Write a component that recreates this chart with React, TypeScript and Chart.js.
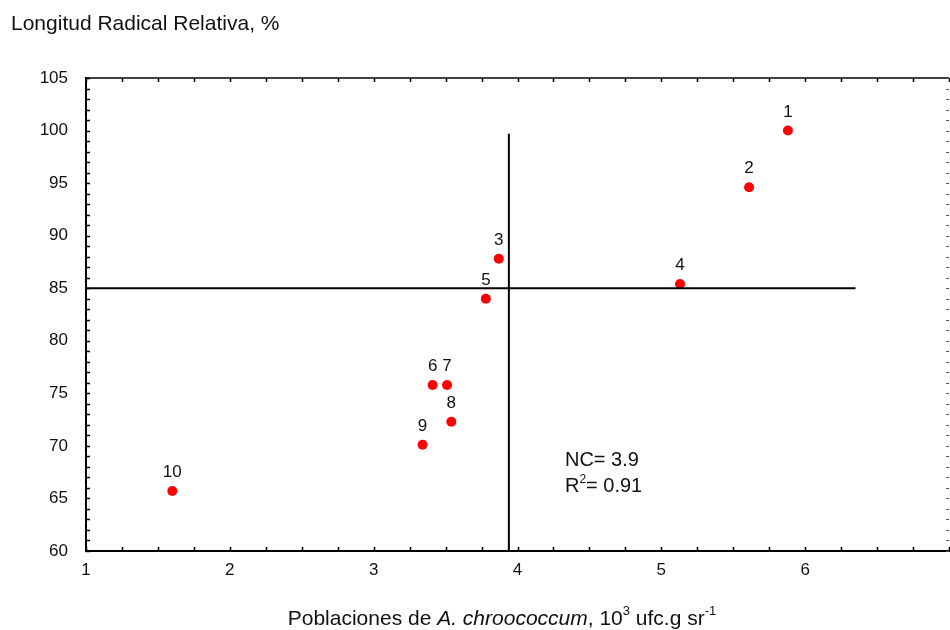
import React, { useEffect, useRef } from "react";
import { Chart, registerables } from "chart.js";

Chart.register(...registerables);

// ---- data ----
const pointLabels = ["1", "2", "3", "4", "5", "6", "7", "8", "9", "10"];
const xValues = [5.88, 5.61, 3.87, 5.13, 3.78, 3.41, 3.51, 3.54, 3.34, 1.6];
const yValues = [100, 94.6, 87.8, 85.4, 84.0, 75.8, 75.8, 72.3, 70.1, 65.7];

const xMin = 1;
const xMax = 7;
const xTickLabels = [1, 2, 3, 4, 5, 6];
const yMin = 60;
const yMax = 105;
const yStep = 5;

// critical level lines
const ncX = 3.94;
const ncLineYRange = [60, 99.7];
const refY = 85;
const refLineXRange = [1, 6.35];

// annotation
const annotationX = 4.33;
const annotationLines = [
  { y: 68.1, main: "NC= 3.9", sup: "", rest: "" },
  { y: 65.6, main: "R", sup: "2", rest: "= 0.91" },
];

const yTitle = "Longitud Radical Relativa, %";

const FONT = "'Liberation Sans', Arial, sans-serif";

const decorPlugin = {
  id: "decor",
  afterDraw(chart: any) {
    const { ctx, chartArea, scales } = chart;
    const xs = scales.x;
    const ys = scales.y;
    const { left, right, top, bottom } = chartArea;
    ctx.save();
    // top border
    ctx.strokeStyle = "#000";
    ctx.lineWidth = 1.5;
    ctx.beginPath();
    ctx.moveTo(left, top);
    ctx.lineTo(right, top);
    ctx.stroke();
    // x ticks (bottom & top) every 0.25
    for (let i = 0; i <= (xMax - xMin) * 4; i++) {
      const v = xMin + i * 0.25;
      const px = Math.round(xs.getPixelForValue(v)) + 0.5;
      ctx.beginPath();
      ctx.moveTo(px, bottom);
      ctx.lineTo(px, bottom - 4);
      ctx.moveTo(px, top);
      ctx.lineTo(px, top + 4);
      ctx.stroke();
    }
    // y ticks every 1 (left) and right side
    for (let v = yMin; v <= yMax; v++) {
      const py = Math.round(ys.getPixelForValue(v)) + 0.5;
      ctx.strokeStyle = "#000";
      ctx.lineWidth = 1.5;
      ctx.beginPath();
      ctx.moveTo(left, py);
      ctx.lineTo(left + 4, py);
      ctx.stroke();
      ctx.strokeStyle = "#555";
      ctx.lineWidth = 1;
      ctx.beginPath();
      ctx.moveTo(right - 3, py);
      ctx.lineTo(right, py);
      ctx.stroke();
    }

    // point labels
    ctx.fillStyle = "#111";
    ctx.font = `17px ${FONT}`;
    ctx.textAlign = "center";
    ctx.textBaseline = "alphabetic";
    const meta = chart.getDatasetMeta(2);
    meta.data.forEach((el: any, i: number) => {
      ctx.fillText(pointLabels[i], el.x, el.y - 14);
    });

    // annotation
    ctx.textAlign = "left";
    const ax = xs.getPixelForValue(annotationX);
    annotationLines.forEach((ln) => {
      const py = ys.getPixelForValue(ln.y);
      ctx.font = `20px ${FONT}`;
      let cx = ax;
      ctx.fillText(ln.main, cx, py);
      cx += ctx.measureText(ln.main).width;
      if (ln.sup) {
        ctx.font = `12px ${FONT}`;
        ctx.fillText(ln.sup, cx, py - 9);
        cx += ctx.measureText(ln.sup).width;
        ctx.font = `20px ${FONT}`;
      }
      if (ln.rest) ctx.fillText(ln.rest, cx, py);
    });

    // y title
    ctx.font = `21px ${FONT}`;
    ctx.fillStyle = "#111";
    ctx.fillText(yTitle, 11, 30);

    // x title with italics and superscripts
    const parts = [
      { t: "Poblaciones de ", f: `21px ${FONT}`, dy: 0 },
      { t: "A. chroococcum", f: `italic 21px ${FONT}`, dy: 0 },
      { t: ", 10", f: `21px ${FONT}`, dy: 0 },
      { t: "3", f: `13px ${FONT}`, dy: -10 },
      { t: " ufc.g sr", f: `21px ${FONT}`, dy: 0 },
      { t: "-1", f: `13px ${FONT}`, dy: -10 },
    ];
    let total = 0;
    parts.forEach((p) => {
      ctx.font = p.f;
      total += ctx.measureText(p.t).width;
    });
    let cx = 502 - total / 2;
    const base = 625;
    parts.forEach((p) => {
      ctx.font = p.f;
      ctx.fillText(p.t, cx, base + p.dy);
      cx += ctx.measureText(p.t).width;
    });
    ctx.restore();
  },
};

export default function App() {
  const ref = useRef<HTMLCanvasElement | null>(null);
  useEffect(() => {
    if (!ref.current) return;
    const chart = new Chart(ref.current, {
      type: "scatter",
      data: {
        datasets: [
          {
            type: "line",
            data: ncLineYRange.map((y) => ({ x: ncX, y })),
            borderColor: "#000",
            borderWidth: 2,
            pointRadius: 0,
          } as any,
          {
            type: "line",
            data: refLineXRange.map((x) => ({ x, y: refY })),
            borderColor: "#000",
            borderWidth: 2,
            pointRadius: 0,
          } as any,
          {
            data: xValues.map((x, i) => ({ x, y: yValues[i] })),
            backgroundColor: "#ff0000",
            borderColor: "#ff0000",
            borderWidth: 0,
            pointRadius: 5,
          },
        ],
      },
      options: {
        animation: false,
        responsive: false,
        devicePixelRatio: 1,
        layout: { autoPadding: false, padding: { left: 0, right: 1, top: 78, bottom: 0 } },
        plugins: {
          legend: { display: false },
          tooltip: { enabled: false },
          title: { display: false },
        },
        scales: {
          x: {
            type: "linear",
            min: xMin,
            max: xMax,
            afterBuildTicks: (scale: any) => {
              scale.ticks = xTickLabels.map((v) => ({ value: v }));
            },
            afterFit: (scale: any) => {
              scale.height = 79;
              scale.paddingRight = 0;
              scale.paddingLeft = 0;
            },
            grid: { display: true, drawOnChartArea: false, drawTicks: false },
            border: { display: true, color: "#000", width: 2 },
            ticks: {
              color: "#111",
              font: { family: FONT, size: 17 },
              padding: 9,
              maxRotation: 0,
            },
          },
          y: {
            type: "linear",
            min: yMin,
            max: yMax,
            ticks: {
              stepSize: yStep,
              color: "#111",
              font: { family: FONT, size: 17 },
              padding: 18,
            },
            afterFit: (scale: any) => {
              scale.width = 86;
              scale.paddingTop = 0;
              scale.paddingBottom = 0;
            },
            grid: { display: true, drawOnChartArea: false, drawTicks: false },
            border: { display: true, color: "#000", width: 2 },
          },
        },
      },
      plugins: [decorPlugin],
    });
    return () => chart.destroy();
  }, []);
  return (
    <div style={{ position: "absolute", left: 0, top: 0, width: 950, height: 630, background: "#fff" }}>
      <canvas ref={ref} width={950} height={630} style={{ display: "block", width: 950, height: 630 }} />
    </div>
  );
}
